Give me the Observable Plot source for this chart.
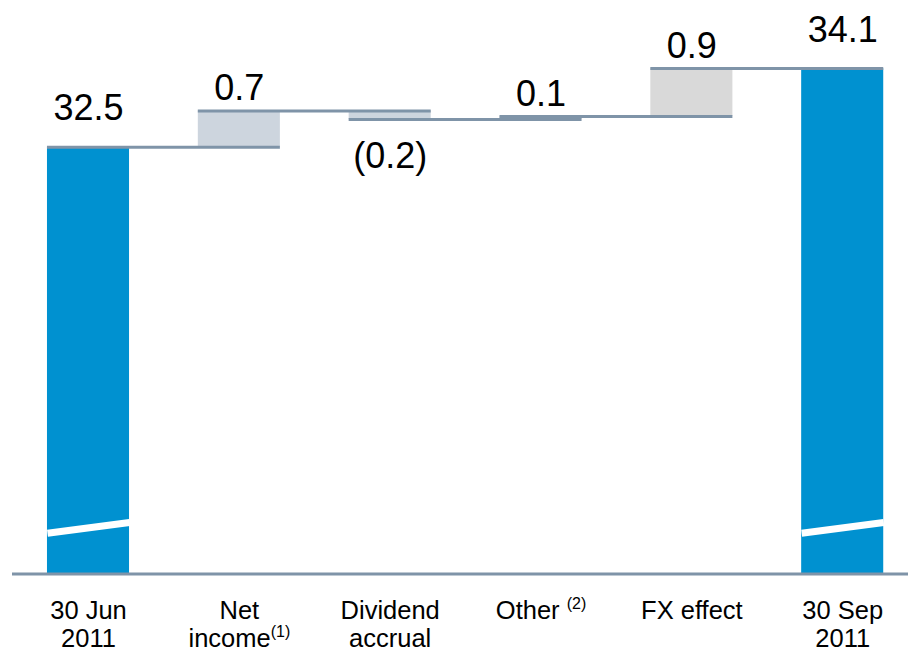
<!DOCTYPE html>
<html><head><meta charset="utf-8">
<script src="https://cdn.jsdelivr.net/npm/d3@7"></script>
<script src="https://cdn.jsdelivr.net/npm/@observablehq/plot@0.6"></script>
<style>body{margin:0;background:#fff}</style>
</head><body><div id="chart"></div>
<script>
const categories = ["30 Jun 2011", "Net income", "Dividend accrual", "Other", "FX effect", "30 Sep 2011"];
const kinds = ["total", "delta", "delta", "delta", "delta", "total"];
const values = [32.54, 0.71, -0.17, 0.06, 0.94, 34.08];
const axisLine1 = ["30 Jun", "Net", "Dividend", "Other ^(2)", "FX effect", "30 Sep"];
const axisLine2 = ["2011", "income^(1)", "accrual", "", "", "2011"];

const barColors = ["#0091d0", "#cdd5de", "#cdd5de", "#cdd5de", "#d9d9d9", "#0091d0"];
const lineColor = "#7f94a8";
const yBase = 24.17;          // floor of the broken axis
const breakAt = [24.97, 25.18]; // axis-break slash on the total bars
const half = 0.272;           // half bar width, in category steps

let run = 0;
const steps = values.map((v, i) => {
  let lo, hi, end;
  if (kinds[i] === "total") { lo = yBase; hi = v; end = v; }
  else { const s = run; end = run + v; lo = Math.min(s, end); hi = Math.max(s, end); }
  run = end;
  return {i, cat: categories[i], kind: kinds[i], value: v, lo, hi, end, line1: axisLine1[i], line2: axisLine2[i]};
});
const f1 = d3.format(".1f");
const label = d => d.value < 0 ? `(${f1(-d.value)})` : f1(d.value);

const chart = Plot.plot({
  width: 908, height: 652,
  marginLeft: 12, marginRight: 0, marginTop: 21.2, marginBottom: 78.5,
  style: {fontFamily: "'Liberation Sans', Arial, sans-serif", background: "white"},
  x: {domain: [(12 - 88) / 150.84, (908 - 88) / 150.84], axis: null},
  y: {domain: [yBase, 35], axis: null},
  color: {domain: categories, range: barColors},
  marks: [
    Plot.rect(steps, {x1: d => d.i - half, x2: d => d.i + half, y1: "lo", y2: "hi", fill: "cat"}),
    Plot.link(steps.filter(d => d.kind === "total"), {x1: d => d.i - half, x2: d => d.i + half, y1: () => breakAt[0], y2: () => breakAt[1], stroke: "white", strokeWidth: 7}),
    Plot.ruleY(steps.slice(0, -1), {y: "end", x1: d => d.i - half, x2: d => d.i + 1 + half, stroke: lineColor, strokeWidth: 3}),
    Plot.ruleY([yBase], {stroke: lineColor, strokeWidth: 3}),
    Plot.text(steps.filter(d => d.kind === "total"), {x: "i", y: "hi", text: label, dy: -26.7, lineAnchor: "bottom", fontSize: 36, fill: "black"}),
    Plot.text(steps.filter(d => d.kind === "delta" && d.value >= 0), {x: "i", y: "hi", text: label, dy: -11, lineAnchor: "bottom", fontSize: 36, fill: "black"}),
    Plot.text(steps.filter(d => d.kind === "delta" && d.value < 0), {x: "i", y: "lo", text: label, dy: 48.5, lineAnchor: "bottom", fontSize: 36, fill: "black"}),
    Plot.text(steps, {x: "i", y: () => yBase, text: "line1", dy: 44.5, lineAnchor: "bottom", fontSize: 25.5, fill: "black"}),
    Plot.text(steps, {x: "i", y: () => yBase, text: "line2", dy: 73, lineAnchor: "bottom", fontSize: 25.5, fill: "black"})
  ]
});

chart.querySelectorAll("text").forEach(t => {
  if (t.textContent.includes("^")) {
    const [a, b] = t.textContent.split("^");
    t.textContent = a;
    const ts = document.createElementNS("http://www.w3.org/2000/svg", "tspan");
    ts.setAttribute("dy", "-10");
    ts.setAttribute("font-size", "16");
    ts.textContent = b;
    t.appendChild(ts);
  }
});
document.getElementById("chart").appendChild(chart);
</script>
</body></html>
